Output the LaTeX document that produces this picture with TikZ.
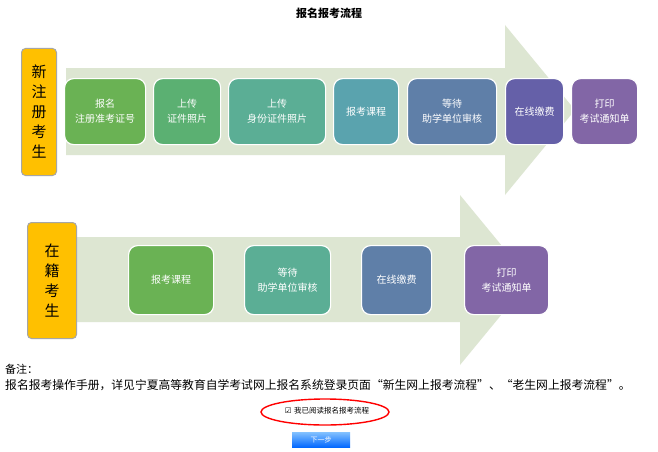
\documentclass[tikz,border=0pt]{standalone}
\usepackage{fontspec}
\setmainfont{Noto Sans CJK SC}
\usetikzlibrary{positioning}
\definecolor{arrowbg}{HTML}{DDE6D2}
\definecolor{labelor}{HTML}{FFC000}
\definecolor{stepA}{HTML}{6AB254}
\definecolor{stepB}{HTML}{5BB072}
\definecolor{stepC}{HTML}{5BAE95}
\definecolor{stepD}{HTML}{5AA3AE}
\definecolor{stepE}{HTML}{5F7FA8}
\definecolor{stepF}{HTML}{6560A8}
\definecolor{stepG}{HTML}{8266A6}
\begin{document}
\begin{tikzpicture}[x=1pt,y=-1pt,
  stepbox/.style={rounded corners=9pt,draw=white,line width=1.2pt,text=white,
    font=\fontsize{10}{15}\selectfont,align=center,anchor=north west,inner sep=0pt},
  tagbox/.style={rounded corners=4pt,draw=gray!70,line width=1pt,fill=labelor,
    font=\fontsize{15}{20}\selectfont,align=center,anchor=north west,inner sep=0pt}]
  \useasboundingbox (0,0) rectangle (658,452);
  \fill[white] (0,0) rectangle (658,452);

  \node[font=\bfseries\fontsize{11}{13}\selectfont] (title) at (329,13) {报名报考流程};

  % big arrows
  \fill[arrowbg] (66,68) -- (505,68) -- (505,25) -- (575,110) -- (505,195) -- (505,155) -- (66,155) -- cycle;
  \fill[arrowbg] (66,237) -- (460,237) -- (460,195) -- (530,280) -- (460,365) -- (460,322) -- (66,322) -- cycle;

  \node[tagbox,minimum width=35pt,minimum height=127pt] (newst) at (21,48) {新\\注\\册\\考\\生};
  \node[tagbox,minimum width=49pt,minimum height=116pt] (oldst) at (27,222) {在\\籍\\考\\生};

  % first row
  \node[stepbox,fill=stepA,minimum width=81pt,minimum height=66pt] (a1) at (64,78) {报名\\注册准考证号};
  \node[stepbox,fill=stepB,minimum width=67pt,minimum height=66pt] (a2) at (153,78) {上传\\证件照片};
  \node[stepbox,fill=stepC,minimum width=97pt,minimum height=66pt] (a3) at (228,78) {上传\\身份证件照片};
  \node[stepbox,fill=stepD,minimum width=65pt,minimum height=66pt] (a4) at (333,78) {报考课程};
  \node[stepbox,fill=stepE,minimum width=89pt,minimum height=66pt] (a5) at (407,78) {等待\\助学单位审核};
  \node[stepbox,fill=stepF,minimum width=58pt,minimum height=66pt] (a6) at (505,78) {在线缴费};
  \node[stepbox,fill=stepG,minimum width=66pt,minimum height=66pt] (a7) at (571,78) {打印\\考试通知单};

  % second row
  \node[stepbox,fill=stepA,minimum width=85pt,minimum height=69pt] (b1) at (128,245) {报考课程};
  \node[stepbox,fill=stepC,minimum width=86pt,minimum height=69pt] (b2) at (244,245) {等待\\助学单位审核};
  \node[stepbox,fill=stepE,minimum width=70pt,minimum height=69pt] (b3) at (361,245) {在线缴费};
  \node[stepbox,fill=stepG,minimum width=84pt,minimum height=69pt] (b4) at (464,245) {打印\\考试通知单};

  % notes
  \node[anchor=west,font=\fontsize{11}{13}\selectfont,inner sep=0pt] (note1) at (5,369) {备注：};
  \node[anchor=west,font=\fontsize{11.8}{13}\selectfont,inner sep=0pt] (note2) at (5,385) {报名报考操作手册，详见宁夏高等教育自学考试网上报名系统登录页面“新生网上报考流程”、“老生网上报考流程”。};

  \node[font=\fontsize{7.5}{9}\selectfont] (agree) at (327,411) {\fontspec{DejaVu Sans}☑\ \normalfont 我已阅读报名报考流程};
  \draw[red,line width=1.4pt] (325,412) ellipse [x radius=64,y radius=13];
  \node[top color=cyan!50!blue!50,bottom color=blue!60!cyan,text=white,
    font=\fontsize{7}{8}\selectfont,minimum width=58pt,minimum height=15pt,inner sep=0pt] (next) at (321,440) {下一步};
\end{tikzpicture}
\end{document}
